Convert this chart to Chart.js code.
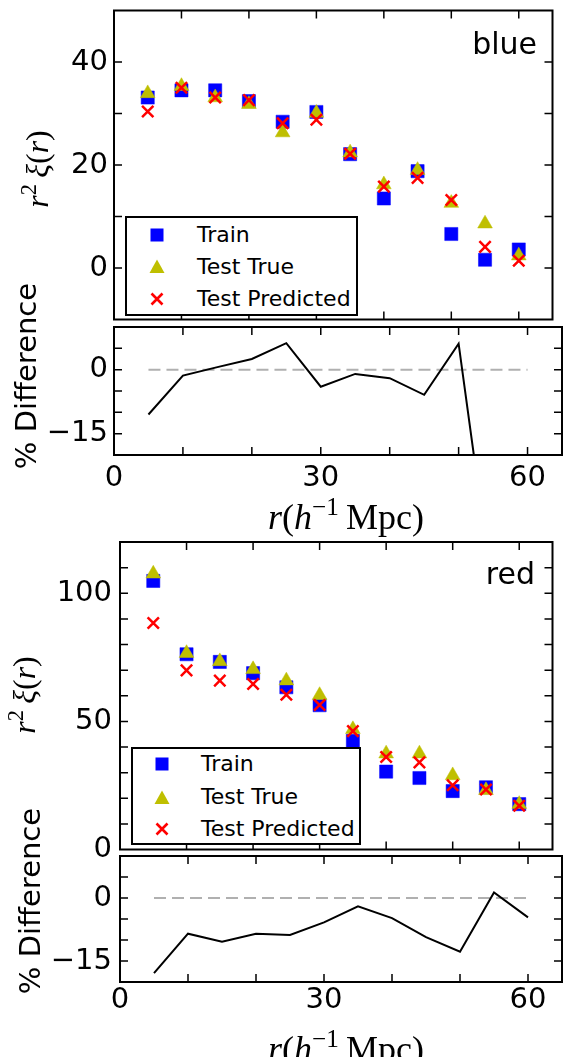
<!DOCTYPE html>
<html>
<head>
<meta charset="utf-8">
<script src="https://cdn.jsdelivr.net/npm/chart.js@4.4.0/dist/chart.umd.min.js"></script>
<style>
  html, body { margin: 0; padding: 0; background: #fff; }
  body { width: 563px; height: 1057px; position: relative; overflow: hidden; font-family: "DejaVu Sans", sans-serif; }
  canvas { position: absolute; left: 0; }
  .txt { position: absolute; white-space: nowrap; line-height: 1; color: #000; }
  .c { transform: translate(-50%, -50%); }
  .rot { transform: translate(-50%, -50%) rotate(-90deg); }
  .math { font-family: "Liberation Serif", serif; }
  .sup { font-size: 70%; position: relative; top: -0.55em; }
  .legend { position: absolute; box-sizing: border-box; border: 2px solid #000; background: #fff; }
  .legend .row { position: absolute; left: 0; right: 0; height: 0; }
  .legend svg { position: absolute; }
  .legend span { position: absolute; font-size: 22px; line-height: 22px; top: -11px; white-space: nowrap; }
</style>
</head>
<body>
<canvas id="blueMain" width="563" height="330" style="top:0px"></canvas>
<canvas id="blueDiff" width="563" height="190" style="top:317px"></canvas>
<canvas id="redMain" width="563" height="330" style="top:530px"></canvas>
<canvas id="redDiff" width="563" height="211" style="top:846px"></canvas>

<div class="txt" style="right:26px;top:28.6px;font-size:30px">blue</div>
<div class="txt" style="right:28px;top:558.6px;font-size:30px">red</div>

<div class="txt rot math" style="left:37px;top:169px;font-size:32px"><i>r</i><span class="sup">2</span>&#8201;<i>ξ</i>(<i>r</i>)</div>
<div class="txt rot" style="left:26px;top:376px;font-size:29px">% Difference</div>
<div class="txt c math" style="left:346px;top:517px;font-size:36px"><i>r</i>(<i>h</i><span class="sup">−1</span>&#8201;Mpc)</div>

<div class="txt rot math" style="left:24px;top:695px;font-size:32px"><i>r</i><span class="sup">2</span>&#8201;<i>ξ</i>(<i>r</i>)</div>
<div class="txt rot" style="left:30px;top:901px;font-size:29px">% Difference</div>
<div class="txt c math" style="left:346px;top:1049px;font-size:36px"><i>r</i>(<i>h</i><span class="sup">−1</span>&#8201;Mpc)</div>

<div id="legBlue" class="legend" style="left:125px;top:216px;width:233px;height:100px"></div>
<div id="legRed" class="legend" style="left:131px;top:747px;width:230px;height:98px"></div>

<script>
const radii = [5, 10, 15, 20, 25, 30, 35, 40, 45, 50, 55, 60];
const xLabels = [0, 30, 60];

const blueTrain = [33.1, 34.5, 34.5, 32.4, 28.4, 30.3, 22.1, 13.5, 18.8, 6.6, 1.6, 3.6];
const blueTrue = [33.9, 35.3, 33.1, 31.8, 26.3, 30.1, 22.4, 16.2, 19.0, 12.6, 8.6, 2.4];
const bluePred = [30.4, 35.0, 33.1, 32.6, 28.1, 28.8, 22.2, 15.8, 17.5, 13.2, 4.1, 1.4];
const blueDiff = [-10.5, -1.4, 0.6, 2.5, 6.2, -4.0, -1.0, -2.0, -5.9, 6.1, -53, -42];

const redTrain = [104.8, 76.2, 73.2, 68.8, 63.3, 56.3, 42.4, 30.4, 27.9, 22.8, 24.3, 17.7];
const redTrue = [107.6, 76.6, 73.4, 70.3, 65.9, 60.2, 46.9, 37.4, 37.4, 28.9, 23.1, 17.7];
const redPred = [88.4, 69.9, 65.9, 64.6, 60.4, 56.4, 46.2, 36.1, 34.0, 25.1, 23.4, 17.1];
const redDiff = [-17.9, -8.5, -10.4, -8.5, -8.8, -5.8, -2.0, -4.8, -9.3, -12.8, 1.3, -4.6];

const blueYLabels = [0, 20, 40];
const redYLabels = [0, 50, 100];
const diffYLabels = [-15, 0];

const seriesNames = ["Train", "Test True", "Test Predicted"];
const FONT = "'DejaVu Sans', sans-serif";

const pts = vals => vals.map((v, i) => ({ x: radii[i], y: v }));
const fmt = v => v < 0 ? "\u2212" + Math.abs(v) : String(v);

// matplotlib style box with inward ticks on all four sides
const frameTicks = {
  id: "frameTicks",
  afterDraw(chart) {
    const { ctx, chartArea: a, scales: { x, y } } = chart;
    const len = 8;
    ctx.save();
    ctx.strokeStyle = "#000";
    ctx.lineWidth = 1.5;
    ctx.beginPath();
    x.ticks.forEach(t => {
      if (t.value % 10) return;
      const px = x.getPixelForValue(t.value);
      if (px <= a.left + 1 || px >= a.right - 1) return;
      ctx.moveTo(px, a.bottom); ctx.lineTo(px, a.bottom - len);
      ctx.moveTo(px, a.top); ctx.lineTo(px, a.top + len);
    });
    y.ticks.forEach(t => {
      const py = y.getPixelForValue(t.value);
      if (py <= a.top + 1 || py >= a.bottom - 1) return;
      ctx.moveTo(a.left, py); ctx.lineTo(a.left + len, py);
      ctx.moveTo(a.right, py); ctx.lineTo(a.right - len, py);
    });
    ctx.stroke();
    ctx.lineWidth = 2;
    ctx.strokeRect(a.left, a.top, a.right - a.left, a.bottom - a.top);
    ctx.restore();
  }
};

function scales(o) {
  return {
    x: {
      type: "linear", min: 0, max: 65,
      grid: { display: false, drawTicks: false }, border: { display: false },
      ticks: {
        stepSize: 10, includeBounds: false, autoSkip: false, maxRotation: 0, display: o.xLab, padding: o.xPad,
        color: "#000", font: { family: FONT, size: 29 },
        callback: v => xLabels.includes(v) ? String(v) : ""
      },
      afterFit: s => { s.height = o.xHeight; s.paddingLeft = 0; s.paddingRight = 0; }
    },
    y: {
      type: "linear", min: o.yMin, max: o.yMax,
      grid: { display: false, drawTicks: false }, border: { display: false },
      ticks: {
        stepSize: o.yStep, includeBounds: false, autoSkip: false, padding: o.yPad,
        color: "#000", font: { family: FONT, size: 29 },
        callback: v => o.yLabels.includes(v) ? fmt(v) : ""
      },
      afterFit: s => { s.width = o.left; s.paddingTop = 0; s.paddingBottom = 0; }
    }
  };
}

function baseOptions(o) {
  return {
    responsive: false, animation: false, events: [],
    layout: { padding: { left: 0, right: 1, top: o.top, bottom: 0 } },
    plugins: { legend: { display: false }, tooltip: { enabled: false } },
    scales: scales(o)
  };
}

function mainChart(id, train, truth, pred, o) {
  new Chart(document.getElementById(id), {
    type: "scatter",
    data: {
      datasets: [
        { label: seriesNames[0], data: pts(train), order: 3, pointStyle: "rect", pointRadius: 9.3,
          backgroundColor: "#0000ff", borderColor: "#0000ff", borderWidth: 0.5 },
        { label: seriesNames[1], data: pts(truth), order: 2, pointStyle: "triangle", pointRadius: 8.5,
          backgroundColor: "#bfbf00", borderColor: "#bfbf00", borderWidth: 0.5 },
        { label: seriesNames[2], data: pts(pred), order: 1, pointStyle: "crossRot", pointRadius: 8,
          backgroundColor: "#ff0000", borderColor: "#ff0000", borderWidth: 2.5 }
      ]
    },
    options: baseOptions(o),
    plugins: [frameTicks]
  });
}

function diffChart(id, diff, o) {
  new Chart(document.getElementById(id), {
    type: "scatter",
    data: {
      datasets: [
        { data: pts(diff), order: 1, showLine: true, pointRadius: 0,
          borderColor: "#000", borderWidth: 2 },
        { data: [{ x: radii[0], y: 0 }, { x: radii[radii.length - 1], y: 0 }], order: 2,
          showLine: true, pointRadius: 0, borderColor: "#b0b0b0", borderWidth: 2, borderDash: [12, 6] }
      ]
    },
    options: baseOptions(o),
    plugins: [frameTicks]
  });
}

mainChart("blueMain", blueTrain, blueTrue, bluePred,
  { top: 9, xHeight: 3, xLab: false, xPad: 0, yMin: -10, yMax: 50, yStep: 10, yLabels: blueYLabels, yPad: 6, left: 114 });
diffChart("blueDiff", blueDiff,
  { top: 10, xHeight: 52, xLab: true, xPad: 6, yMin: -20, yMax: 10, yStep: 5, yLabels: diffYLabels, yPad: 6, left: 114 });
mainChart("redMain", redTrain, redTrue, redPred,
  { top: 12, xHeight: 4, xLab: false, xPad: 0, yMin: 0, yMax: 120, yStep: 10, yLabels: redYLabels, yPad: 8, left: 120 });
diffChart("redDiff", redDiff,
  { top: 10, xHeight: 75, xLab: true, xPad: 1, yMin: -20, yMax: 10, yStep: 5, yLabels: diffYLabels, yPad: 8, left: 120 });

// legends (html), markers drawn as small svgs
function legend(id, rows, mx, tx) {
  const marks = [
    '<svg width="14" height="14" viewBox="0 0 14 14"><rect x="0.5" y="0.5" width="13" height="13" fill="#0000ff"/></svg>',
    '<svg width="16" height="15" viewBox="0 0 16 15"><polygon points="8,0.5 15.5,14 0.5,14" fill="#bfbf00"/></svg>',
    '<svg width="14" height="14" viewBox="0 0 14 14"><path d="M1.5,1.5 L12.5,12.5 M12.5,1.5 L1.5,12.5" stroke="#ff0000" stroke-width="2.6"/></svg>'
  ];
  const sizes = [[14, 14], [16, 15], [14, 14]];
  document.getElementById(id).innerHTML = seriesNames.map((n, i) => `
    <div class="row" style="top:${rows[i]}px">
      <div style="position:absolute;left:${mx - sizes[i][0] / 2}px;top:${-sizes[i][1] / 2}px">${marks[i]}</div>
      <span style="left:${tx}px">${n}</span>
    </div>`).join("");
}
legend("legBlue", [17, 48.7, 81.3], 29.7, 70);
legend("legRed", [15.3, 48, 79.6], 29, 68);
</script>
</body>
</html>
